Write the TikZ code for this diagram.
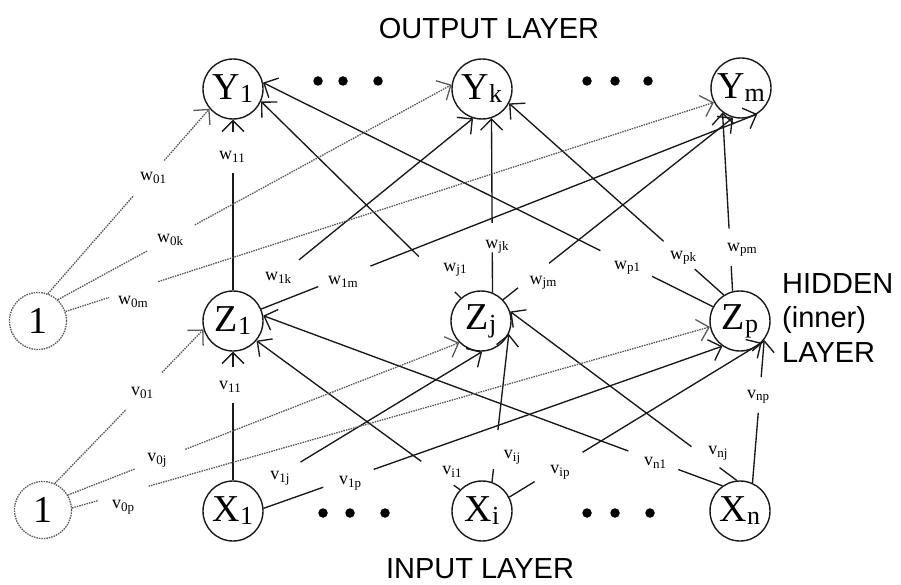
\documentclass[tikz,border=0pt]{standalone}
\usepackage{fontspec}
\setmainfont{Liberation Serif}
\newfontfamily\layersans{Liberation Sans}
\usetikzlibrary{calc,arrows.meta}

% subscripts for unit names and for weight labels
\newcommand\nsub[1]{\raisebox{-3pt}{\fontsize{26}{26}\selectfont #1}}
\newcommand\wsub[1]{\raisebox{-2.5pt}{\fontsize{13}{13}\selectfont #1}}

% a weighted connection: a short stub at the source, a gap for the label,
% then the rest of the line ending in an arrow tip at the target
\newcommand\gapwire[5][]{%
  \draw[linkline,#1] (#2) -- ($(#2)!#4!(#3)$);
  \draw[linkline,arrowed,#1] ($(#2)!#5!(#3)$) -- (#3);
}

\begin{document}
\begin{tikzpicture}[x=1pt,y=-1pt,
  neuron/.style={circle,draw=black!90,line width=1.4pt,minimum size=60pt,
    inner sep=0pt,font=\fontsize{38}{38}\selectfont},
  biasneuron/.style={neuron,draw=black!65,line width=1.3pt,
    dash pattern=on 1.5pt off 1pt,minimum size=57pt},
  wl/.style={inner sep=0pt,font=\fontsize{18}{18}\selectfont},
  layertext/.style={inner sep=0pt,font=\layersans\fontsize{29}{29}\selectfont},
  linkline/.style={line width=1.35pt,draw=black!90},
  biaswire/.style={line width=1.3pt,draw=black!65,dash pattern=on 1.5pt off 1pt},
  arrowed/.style={-{Straight Barb[length=11pt,width=22pt]}},
  ellipsisdot/.style={circle,fill=black,inner sep=0pt,minimum size=9.5pt}]

\fill[white] (0,0) rectangle (901,585);
\useasboundingbox (0,0) rectangle (901,585);

% output layer
\node[neuron] (Y1) at (233,89) {Y\nsub{1}};
\node[neuron] (Yk) at (482,89) {Y\nsub{k}};
\node[neuron] (Ym) at (741,88) {Y\nsub{m}};
% hidden layer
\node[neuron] (Z1) at (233,321) {Z\nsub{1}};
\node[neuron] (Zj) at (481,321) {Z\nsub{j}};
\node[neuron] (Zp) at (740,321) {Z\nsub{p}};
% input layer
\node[neuron] (X1) at (233,511) {X\nsub{1}};
\node[neuron] (Xi) at (482,511) {X\nsub{i}};
\node[neuron] (Xn) at (740,511) {X\nsub{n}};
% bias units
\node[biasneuron] (B1) at (38,321) {1};
\node[biasneuron] (B2) at (43,510) {1};

% ellipsis dots between units
\node[ellipsisdot] (dt1) at (318,81) {};
\node[ellipsisdot] (dt2) at (343,81) {};
\node[ellipsisdot] (dt3) at (378,81) {};
\node[ellipsisdot] (dt4) at (587,81) {};
\node[ellipsisdot] (dt5) at (615,81) {};
\node[ellipsisdot] (dt6) at (648,81) {};
\node[ellipsisdot] (db1) at (323,513) {};
\node[ellipsisdot] (db2) at (350,513) {};
\node[ellipsisdot] (db3) at (385,513) {};
\node[ellipsisdot] (db4) at (587,513) {};
\node[ellipsisdot] (db5) at (615,513) {};
\node[ellipsisdot] (db6) at (650,513) {};

% hidden -> output
\gapwire{Z1.90}{Y1.-90}{0.686}{0.926}
\gapwire{Z1.50}{Yk.-107}{0}{0.21}
\gapwire{Z1.23}{Ym.-58}{0.115}{0.22}
\gapwire{Zj.131}{Y1.-24}{0.03}{0.21}
\gapwire{Zj.68}{Yk.-72}{0.23}{0.40}
\gapwire{Zj.44}{Ym.-105}{0.065}{0.2}
\gapwire{Zp.152}{Y1.12}{0.135}{0.25}
\gapwire{Zp.122}{Yk.-28}{0.135}{0.28}
\gapwire{Zp.104}{Ym.-127}{0.14}{0.35}
% bias -> output
\gapwire[biaswire]{B1.70}{Y1.220}{0.53}{0.72}
\gapwire[biaswire]{B1.47}{Yk.172}{0.226}{0.348}
\gapwire[biaswire]{B1.19}{Ym.208}{0.067}{0.143}
% input -> hidden
\gapwire{X1.90}{Z1.-90}{0.60}{0.88}
\gapwire{X1.44}{Zj.-88}{0}{0.2}
\gapwire{X1.5}{Zp.-125}{0.13}{0.24}
\gapwire{Xi.136}{Z1.-40}{0.03}{0.19}
\gapwire{Xi.71}{Zj.-25}{0.087}{0.35}
\gapwire{Xi.27}{Zp.-45}{0.1}{0.29}
\gapwire{Xn.125}{Z1.10}{0.096}{0.205}
\gapwire{Xn.96}{Zj.18}{0.076}{0.2}
\gapwire{Xn.66}{Zp.-38}{0.49}{0.74}
% bias -> hidden
\gapwire[biaswire]{B2.66}{Z1.196}{0.48}{0.72}
\gapwire[biaswire]{B2.31}{Zj.225}{0.17}{0.30}
\gapwire[biaswire]{B2.4}{Zp.191}{0.04}{0.12}

% weight labels
\node[wl] (lw11) at (232,157) {w\wsub{11}};
\node[wl] (lw01) at (153,178) {w\wsub{01}};
\node[wl] (lw0k) at (170,240) {w\wsub{0k}};
\node[wl] (lw0m) at (133,302) {w\wsub{0m}};
\node[wl] (lw1k) at (278,278) {w\wsub{1k}};
\node[wl] (lw1m) at (343,282) {w\wsub{1m}};
\node[wl] (lwj1) at (455,270) {w\wsub{j1}};
\node[wl] (lwjk) at (497,247) {w\wsub{jk}};
\node[wl] (lwjm) at (543,283) {w\wsub{jm}};
\node[wl] (lwp1) at (627,268) {w\wsub{p1}};
\node[wl] (lwpk) at (683,258) {w\wsub{pk}};
\node[wl] (lwpm) at (742,250) {w\wsub{pm}};
\node[wl] (lv11) at (230,387) {v\wsub{11}};
\node[wl] (lv01) at (142,393) {v\wsub{01}};
\node[wl] (lv0j) at (157,460) {v\wsub{0j}};
\node[wl] (lv0p) at (123,507) {v\wsub{0p}};
\node[wl] (lv1j) at (280,478) {v\wsub{1j}};
\node[wl] (lv1p) at (350,483) {v\wsub{1p}};
\node[wl] (lvi1) at (452,472) {v\wsub{i1}};
\node[wl] (lvij) at (512,457) {v\wsub{ij}};
\node[wl] (lvip) at (560,472) {v\wsub{ip}};
\node[wl] (lvn1) at (655,463) {v\wsub{n1}};
\node[wl] (lvnj) at (718,453) {v\wsub{nj}};
\node[wl] (lvnp) at (758,397) {v\wsub{np}};

% layer captions
\node[layertext] (outcap) at (489,29) {OUTPUT LAYER};
\node[layertext] (incap) at (480,569) {INPUT LAYER};
\node[layertext,anchor=base west] (hid1) at (782,293) {HIDDEN};
\node[layertext,anchor=base west] (hid2) at (782,327.5) {(inner)};
\node[layertext,anchor=base west] (hid3) at (782,362) {LAYER};
\end{tikzpicture}
\end{document}
